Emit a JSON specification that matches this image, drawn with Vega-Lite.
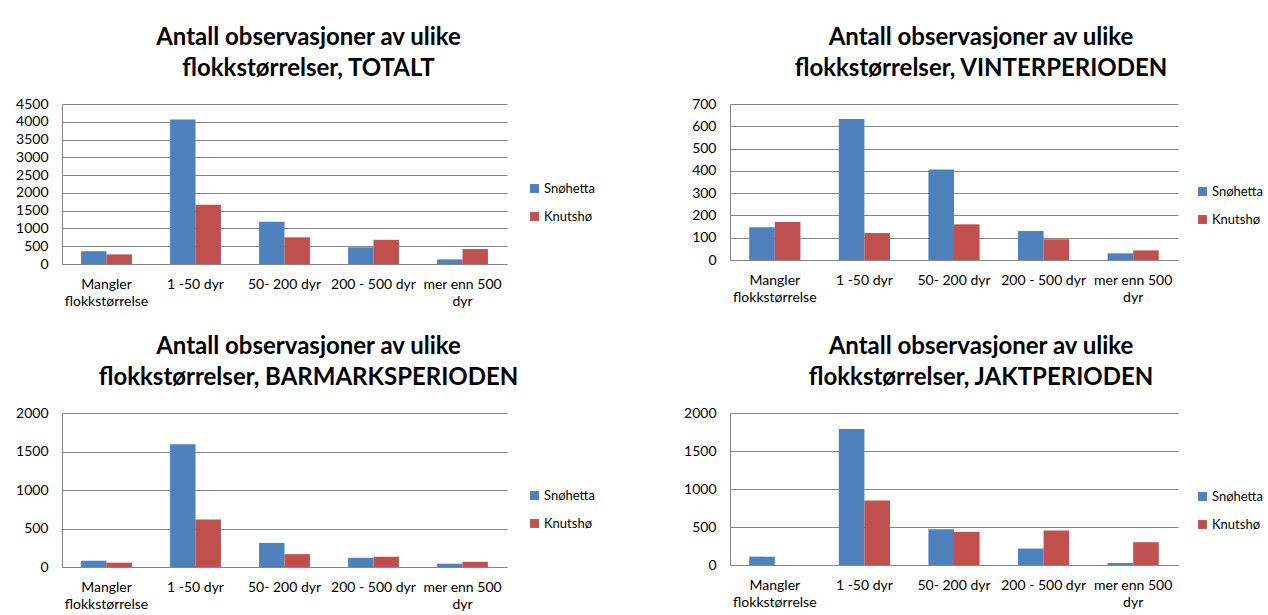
{
  "$schema": "https://vega.github.io/schema/vega-lite/v6.json",
  "padding": {"left": 15, "top": 26, "right": 0, "bottom": 0},
  "background": "white",
  "data": {
    "values": [
      {"panel": "TOTALT", "kategori": "Mangler flokkstørrelse", "omrade": "Snøhetta", "antall": 360},
      {"panel": "TOTALT", "kategori": "Mangler flokkstørrelse", "omrade": "Knutshø", "antall": 270},
      {"panel": "TOTALT", "kategori": "1 -50 dyr", "omrade": "Snøhetta", "antall": 4065},
      {"panel": "TOTALT", "kategori": "1 -50 dyr", "omrade": "Knutshø", "antall": 1665},
      {"panel": "TOTALT", "kategori": "50- 200 dyr", "omrade": "Snøhetta", "antall": 1185},
      {"panel": "TOTALT", "kategori": "50- 200 dyr", "omrade": "Knutshø", "antall": 750},
      {"panel": "TOTALT", "kategori": "200 - 500 dyr", "omrade": "Snøhetta", "antall": 470},
      {"panel": "TOTALT", "kategori": "200 - 500 dyr", "omrade": "Knutshø", "antall": 680},
      {"panel": "TOTALT", "kategori": "mer enn 500 dyr", "omrade": "Snøhetta", "antall": 130},
      {"panel": "TOTALT", "kategori": "mer enn 500 dyr", "omrade": "Knutshø", "antall": 420},
      {"panel": "VINTERPERIODEN", "kategori": "Mangler flokkstørrelse", "omrade": "Snøhetta", "antall": 147},
      {"panel": "VINTERPERIODEN", "kategori": "Mangler flokkstørrelse", "omrade": "Knutshø", "antall": 171},
      {"panel": "VINTERPERIODEN", "kategori": "1 -50 dyr", "omrade": "Snøhetta", "antall": 633},
      {"panel": "VINTERPERIODEN", "kategori": "1 -50 dyr", "omrade": "Knutshø", "antall": 121},
      {"panel": "VINTERPERIODEN", "kategori": "50- 200 dyr", "omrade": "Snøhetta", "antall": 406},
      {"panel": "VINTERPERIODEN", "kategori": "50- 200 dyr", "omrade": "Knutshø", "antall": 160},
      {"panel": "VINTERPERIODEN", "kategori": "200 - 500 dyr", "omrade": "Snøhetta", "antall": 130},
      {"panel": "VINTERPERIODEN", "kategori": "200 - 500 dyr", "omrade": "Knutshø", "antall": 93},
      {"panel": "VINTERPERIODEN", "kategori": "mer enn 500 dyr", "omrade": "Snøhetta", "antall": 30},
      {"panel": "VINTERPERIODEN", "kategori": "mer enn 500 dyr", "omrade": "Knutshø", "antall": 43},
      {"panel": "BARMARKSPERIODEN", "kategori": "Mangler flokkstørrelse", "omrade": "Snøhetta", "antall": 81},
      {"panel": "BARMARKSPERIODEN", "kategori": "Mangler flokkstørrelse", "omrade": "Knutshø", "antall": 56},
      {"panel": "BARMARKSPERIODEN", "kategori": "1 -50 dyr", "omrade": "Snøhetta", "antall": 1595},
      {"panel": "BARMARKSPERIODEN", "kategori": "1 -50 dyr", "omrade": "Knutshø", "antall": 617},
      {"panel": "BARMARKSPERIODEN", "kategori": "50- 200 dyr", "omrade": "Snøhetta", "antall": 313},
      {"panel": "BARMARKSPERIODEN", "kategori": "50- 200 dyr", "omrade": "Knutshø", "antall": 167},
      {"panel": "BARMARKSPERIODEN", "kategori": "200 - 500 dyr", "omrade": "Snøhetta", "antall": 120},
      {"panel": "BARMARKSPERIODEN", "kategori": "200 - 500 dyr", "omrade": "Knutshø", "antall": 133},
      {"panel": "BARMARKSPERIODEN", "kategori": "mer enn 500 dyr", "omrade": "Snøhetta", "antall": 43},
      {"panel": "BARMARKSPERIODEN", "kategori": "mer enn 500 dyr", "omrade": "Knutshø", "antall": 68},
      {"panel": "JAKTPERIODEN", "kategori": "Mangler flokkstørrelse", "omrade": "Snøhetta", "antall": 110},
      {"panel": "JAKTPERIODEN", "kategori": "Mangler flokkstørrelse", "omrade": "Knutshø", "antall": 0},
      {"panel": "JAKTPERIODEN", "kategori": "1 -50 dyr", "omrade": "Snøhetta", "antall": 1788},
      {"panel": "JAKTPERIODEN", "kategori": "1 -50 dyr", "omrade": "Knutshø", "antall": 850},
      {"panel": "JAKTPERIODEN", "kategori": "50- 200 dyr", "omrade": "Snøhetta", "antall": 471},
      {"panel": "JAKTPERIODEN", "kategori": "50- 200 dyr", "omrade": "Knutshø", "antall": 436},
      {"panel": "JAKTPERIODEN", "kategori": "200 - 500 dyr", "omrade": "Snøhetta", "antall": 216},
      {"panel": "JAKTPERIODEN", "kategori": "200 - 500 dyr", "omrade": "Knutshø", "antall": 454},
      {"panel": "JAKTPERIODEN", "kategori": "mer enn 500 dyr", "omrade": "Snøhetta", "antall": 26},
      {"panel": "JAKTPERIODEN", "kategori": "mer enn 500 dyr", "omrade": "Knutshø", "antall": 300}
    ]
  },
  "columns": 2,
  "bounds": "flush",
  "spacing": {"row": 149, "column": 223},
  "resolve": {"scale": {"color": "independent", "x": "independent", "y": "independent", "xOffset": "independent"}, "legend": {"color": "independent"}},
  "concat": [
    {
      "width": 445, "height": 160,
      "title": {"text": ["Antall observasjoner av ulike", "flokkstørrelser, TOTALT"], "dx": 24},
      "transform": [{"filter": "datum.panel == 'TOTALT'"}],
      "mark": {"type": "bar"},
      "encoding": {
        "x": {"field": "kategori", "type": "nominal", "sort": ["Mangler flokkstørrelse", "1 -50 dyr", "50- 200 dyr", "200 - 500 dyr", "mer enn 500 dyr"], "scale": {"paddingInner": 0.4286, "paddingOuter": 0.2143}, "axis": {"title": null, "labelExpr": "datum.value == 'Mangler flokkstørrelse' ? ['Mangler', 'flokkstørrelse'] : datum.value == 'mer enn 500 dyr' ? ['mer enn 500', 'dyr'] : datum.label"}},
        "xOffset": {"field": "omrade", "type": "nominal", "sort": ["Snøhetta", "Knutshø"], "scale": {"paddingInner": 0, "paddingOuter": 0}},
        "y": {"field": "antall", "type": "quantitative", "scale": {"domain": [0, 4500], "nice": false}, "axis": {"title": null, "format": "d", "values": [0, 500, 1000, 1500, 2000, 2500, 3000, 3500, 4000, 4500]}},
        "color": {"field": "omrade", "type": "nominal", "scale": {"domain": ["Snøhetta", "Knutshø"], "range": ["#4F81BD", "#C0504D"]}, "legend": {"title": null, "orient": "none", "legendX": 466, "legendY": 78}}
      }
    },
    {
      "width": 448, "height": 156,
      "title": {"text": ["Antall observasjoner av ulike", "flokkstørrelser, VINTERPERIODEN"], "dx": 27},
      "transform": [{"filter": "datum.panel == 'VINTERPERIODEN'"}],
      "mark": {"type": "bar"},
      "encoding": {
        "x": {"field": "kategori", "type": "nominal", "sort": ["Mangler flokkstørrelse", "1 -50 dyr", "50- 200 dyr", "200 - 500 dyr", "mer enn 500 dyr"], "scale": {"paddingInner": 0.4286, "paddingOuter": 0.2143}, "axis": {"title": null, "labelExpr": "datum.value == 'Mangler flokkstørrelse' ? ['Mangler', 'flokkstørrelse'] : datum.value == 'mer enn 500 dyr' ? ['mer enn 500', 'dyr'] : datum.label"}},
        "xOffset": {"field": "omrade", "type": "nominal", "sort": ["Snøhetta", "Knutshø"], "scale": {"paddingInner": 0, "paddingOuter": 0}},
        "y": {"field": "antall", "type": "quantitative", "scale": {"domain": [0, 700], "nice": false}, "axis": {"title": null, "format": "d", "values": [0, 100, 200, 300, 400, 500, 600, 700]}},
        "color": {"field": "omrade", "type": "nominal", "scale": {"domain": ["Snøhetta", "Knutshø"], "range": ["#4F81BD", "#C0504D"]}, "legend": {"title": null, "orient": "none", "legendX": 466, "legendY": 81}}
      }
    },
    {
      "width": 445, "height": 154,
      "title": {"text": ["Antall observasjoner av ulike", "flokkstørrelser, BARMARKSPERIODEN"], "dx": 24},
      "transform": [{"filter": "datum.panel == 'BARMARKSPERIODEN'"}],
      "mark": {"type": "bar"},
      "encoding": {
        "x": {"field": "kategori", "type": "nominal", "sort": ["Mangler flokkstørrelse", "1 -50 dyr", "50- 200 dyr", "200 - 500 dyr", "mer enn 500 dyr"], "scale": {"paddingInner": 0.4286, "paddingOuter": 0.2143}, "axis": {"title": null, "labelExpr": "datum.value == 'Mangler flokkstørrelse' ? ['Mangler', 'flokkstørrelse'] : datum.value == 'mer enn 500 dyr' ? ['mer enn 500', 'dyr'] : datum.label"}},
        "xOffset": {"field": "omrade", "type": "nominal", "sort": ["Snøhetta", "Knutshø"], "scale": {"paddingInner": 0, "paddingOuter": 0}},
        "y": {"field": "antall", "type": "quantitative", "scale": {"domain": [0, 2000], "nice": false}, "axis": {"title": null, "format": "d", "values": [0, 500, 1000, 1500, 2000]}},
        "color": {"field": "omrade", "type": "nominal", "scale": {"domain": ["Snøhetta", "Knutshø"], "range": ["#4F81BD", "#C0504D"]}, "legend": {"title": null, "orient": "none", "legendX": 466, "legendY": 76}}
      }
    },
    {
      "width": 448, "height": 152,
      "title": {"text": ["Antall observasjoner av ulike", "flokkstørrelser, JAKTPERIODEN"], "dx": 27},
      "transform": [{"filter": "datum.panel == 'JAKTPERIODEN'"}],
      "mark": {"type": "bar"},
      "encoding": {
        "x": {"field": "kategori", "type": "nominal", "sort": ["Mangler flokkstørrelse", "1 -50 dyr", "50- 200 dyr", "200 - 500 dyr", "mer enn 500 dyr"], "scale": {"paddingInner": 0.4286, "paddingOuter": 0.2143}, "axis": {"title": null, "labelExpr": "datum.value == 'Mangler flokkstørrelse' ? ['Mangler', 'flokkstørrelse'] : datum.value == 'mer enn 500 dyr' ? ['mer enn 500', 'dyr'] : datum.label"}},
        "xOffset": {"field": "omrade", "type": "nominal", "sort": ["Snøhetta", "Knutshø"], "scale": {"paddingInner": 0, "paddingOuter": 0}},
        "y": {"field": "antall", "type": "quantitative", "scale": {"domain": [0, 2000], "nice": false}, "axis": {"title": null, "format": "d", "values": [0, 500, 1000, 1500, 2000]}},
        "color": {"field": "omrade", "type": "nominal", "scale": {"domain": ["Snøhetta", "Knutshø"], "range": ["#4F81BD", "#C0504D"]}, "legend": {"title": null, "orient": "none", "legendX": 466, "legendY": 77}}
      }
    }
  ],
  "config": {
    "font": "Lato",
    "view": {"stroke": null},
    "title": {"font": "Lato", "fontSize": 24, "fontWeight": "bold", "color": "#000000", "lineHeight": 31, "anchor": "middle", "offset": 16},
    "axis": {"labelFont": "Lato", "labelFontSize": 14, "labelColor": "#000000", "domainColor": "#868686", "gridColor": "#868686", "ticks": false},
    "axisX": {"labelAngle": 0, "labelPadding": 13, "labelLineHeight": 17, "grid": false, "domain": true},
    "axisY": {"labelPadding": 14, "grid": true, "domain": true},
    "legend": {"labelFont": "Lato", "labelFontSize": 13, "labelColor": "#000000", "symbolType": "square", "symbolSize": 80, "symbolStrokeWidth": 0, "labelOffset": 3, "rowPadding": 14, "padding": 0}
  }
}
